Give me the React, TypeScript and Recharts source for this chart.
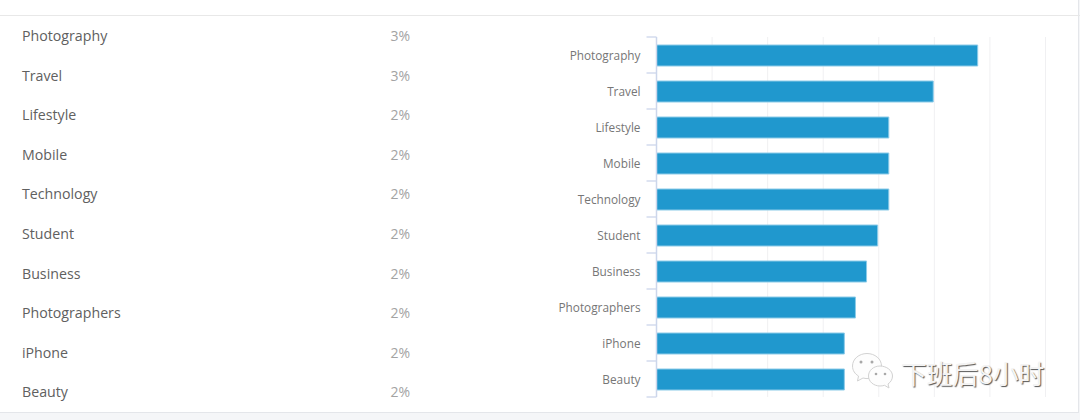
import React from "react";
import { BarChart, Bar, XAxis, YAxis, CartesianGrid } from "recharts";

const categories = [
  "Photography",
  "Travel",
  "Lifestyle",
  "Mobile",
  "Technology",
  "Student",
  "Business",
  "Photographers",
  "iPhone",
  "Beauty",
];
const shares = [2.89, 2.49, 2.09, 2.09, 2.09, 1.99, 1.89, 1.79, 1.69, 1.69];
const shareLabels = ["3%", "3%", "2%", "2%", "2%", "2%", "2%", "2%", "2%", "2%"];
const xTicks = [0, 0.5, 1, 1.5, 2, 2.5, 3, 3.5];

const data = categories.map((name, i) => ({ name, share: shares[i] }));

const FONT = "'Open Sans', sans-serif";
const BAND = 36;

// axis ticks sit between the categories, so they are drawn by hand from the band height
function CategoryTick(props: any) {
  const { x, y, payload, index } = props;
  const axisX = x + 16;
  return (
    <g>
      <line x1={axisX - 10} x2={axisX} y1={y - BAND / 2} y2={y - BAND / 2} stroke="#ccd6eb" strokeWidth={1.3} />
      {index === categories.length - 1 && (
        <line x1={axisX - 10} x2={axisX} y1={y + BAND / 2} y2={y + BAND / 2} stroke="#ccd6eb" strokeWidth={1.3} />
      )}
      <text x={x} y={y + 4.5} textAnchor="end" fontFamily={FONT} fontSize={11.8} fill="#767676">
        {payload.value}
      </text>
    </g>
  );
}

function WeChatIcon() {
  return (
    <svg width={46} height={42} viewBox="0 0 46 42" style={{ position: "absolute", left: 850, top: 351 }}>
      <g fill="#fdfdfd" stroke="#d2d2d2" strokeWidth={1}>
        <path d="M17 2.5 C9 2.5 2.5 8 2.5 15 C2.5 19.5 5 23 8.5 25 L7.5 30 L13 27 C15 27.5 17 27.8 19 27.5 C25 27 31.5 22 31.5 15 C31.5 8 25 2.5 17 2.5 Z" />
        <path d="M30 15 C23.5 15 18.5 19.5 18.5 25 C18.5 30.5 23.5 35 30 35 C31.5 35 33 34.8 34.5 34.3 L39 37 L38 33 C41 31 42.5 28 42.5 25 C42.5 19.5 36.5 15 30 15 Z" />
      </g>
      <g fill="#a8a8a8">
        <circle cx={11} cy={11} r={1.5} />
        <circle cx={22} cy={11} r={1.5} />
        <circle cx={26} cy={23} r={1.3} />
        <circle cx={35} cy={23} r={1.3} />
      </g>
    </svg>
  );
}

export default function App() {
  return (
    <div
      style={{
        position: "absolute",
        left: 0,
        top: 0,
        width: 1080,
        height: 420,
        background: "#f5f6f8",
        overflow: "hidden",
      }}
    >
      <div
        style={{
          position: "absolute",
          left: 0,
          top: 0,
          width: 1078,
          height: 412,
          background: "#ffffff",
          borderBottom: "1px solid #e4e6ea",
          borderRight: "1px solid #e4e6ea",
        }}
      />
      <div style={{ position: "absolute", left: 0, top: 15, width: 1080, height: 1, background: "#e8e8e8" }} />

      {categories.map((name, i) => (
        <div
          key={name}
          style={{
            position: "absolute",
            left: 22,
            top: 26 + i * 39.6,
            lineHeight: "20px",
            fontFamily: FONT,
            fontSize: 14.2,
            color: "#606060",
          }}
        >
          {name}
        </div>
      ))}
      {shareLabels.map((label, i) => (
        <div
          key={i}
          style={{
            position: "absolute",
            left: 390.5,
            top: 26 + i * 39.6,
            lineHeight: "20px",
            fontFamily: FONT,
            fontSize: 14,
            color: "#a3a3a3",
          }}
        >
          {label}
        </div>
      ))}

      <div style={{ position: "absolute", left: 0, top: 0 }}>
        <BarChart
          width={1080}
          height={420}
          layout="vertical"
          data={data}
          margin={{ top: 37, right: 34.5, bottom: 23, left: 0 }}
        >
          <CartesianGrid horizontal={false} stroke="#f0f0f2" />
          <XAxis type="number" domain={[0, 3.5]} ticks={xTicks} hide />
          <YAxis
            type="category"
            dataKey="name"
            width={656.5}
            interval={0}
            stroke="#ccd6eb"
            strokeWidth={1.5}
            tickLine={false}
            tickMargin={10}
            tick={<CategoryTick />}
          />
          <Bar dataKey="share" barSize={21} fill="#2098ce" stroke="#8ccbe8" isAnimationActive={false} />
        </BarChart>
      </div>

      <WeChatIcon />
      <div
        style={{
          position: "absolute",
          left: 901,
          top: 356,
          lineHeight: "34px",
          fontFamily: "'Noto Sans CJK SC', sans-serif",
          fontSize: 25.8,
          color: "#f4f4f4",
          textShadow: "1px 1px 1px #555555",
          whiteSpace: "nowrap",
        }}
      >
        下班后8小时
      </div>
    </div>
  );
}
